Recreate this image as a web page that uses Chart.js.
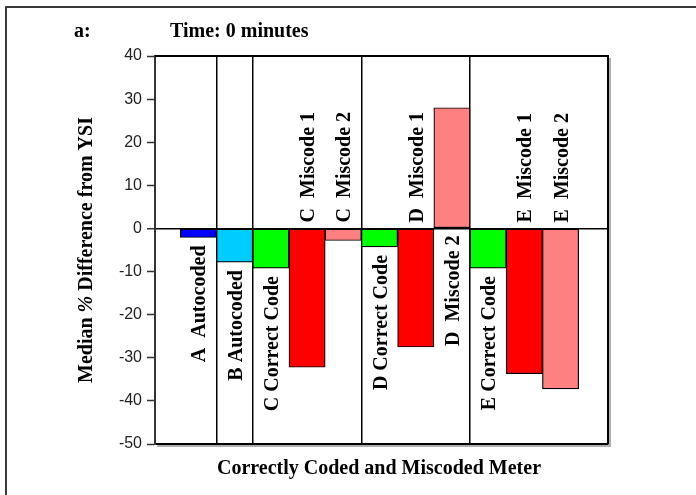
<!DOCTYPE html>
<html><head><meta charset="utf-8">
<script src="https://cdn.jsdelivr.net/npm/chart.js@4.4.1/dist/chart.umd.min.js"></script>
<style>html,body{margin:0;padding:0;background:#fff}#wrap{width:696px;height:495px;position:relative}</style>
</head><body><div id="wrap"><canvas id="c" width="696" height="495"></canvas></div>
<script>
// ---- data ----
const categories = ["A  Autocoded","B Autocoded","C Correct Code","C  Miscode 1","C  Miscode 2","D Correct Code","D  Miscode 1","D  Miscode 2","E Correct Code","E  Miscode 1","E  Miscode 2"];
const values = [-2.1, -7.8, -9.2, -32.2, -2.8, -4.3, -27.5, 28.0, -9.2, -33.7, -37.2];
const yTicks = [-50, -40, -30, -20, -10, 0, 10, 20, 30, 40];
const panelLabel = "a:";
const chartTitle = "Time: 0 minutes";
const xTitle = "Correctly Coded and Miscoded Meter";
const yTitleParts = ["Median ", "%", " Difference from YSI"];

// ---- styles ----
function colorFor(label){
  if (label.startsWith("A")) return "#0000FF";
  if (label.startsWith("B")) return "#00CCFF";
  if (label.includes("Correct")) return "#00FF00";
  if (label.includes("Miscode 1")) return "#FF0000";
  return "#FF8080";
}
const serif = "'Liberation Serif','Times New Roman',serif";
const sans = "'Liberation Sans',Arial,sans-serif";

// group boundaries (where the meter letter changes)
const boundaries = [];
for (let i = 0; i < categories.length - 1; i++) {
  if (categories[i][0] !== categories[i+1][0]) boundaries.push(i + 0.5);
}

const decor = {
  id: 'decor',
  beforeDraw(chart){
    const ctx = chart.ctx;
    ctx.save();
    ctx.fillStyle = '#fff';
    ctx.fillRect(0,0,chart.width,chart.height);
    ctx.strokeStyle = '#3a3a3a';
    ctx.lineWidth = 2;
    ctx.strokeRect(6, 7, 720, 520);
    ctx.restore();
  },
  afterDraw(chart){
    const ctx = chart.ctx, a = chart.chartArea;
    ctx.save();
    // shadow
    ctx.strokeStyle = '#b0b0b0';
    ctx.lineWidth = 2;
    ctx.beginPath();
    ctx.moveTo(a.right + 2, a.top + 2);
    ctx.lineTo(a.right + 2, a.bottom + 2);
    ctx.lineTo(a.left + 2, a.bottom + 2);
    ctx.stroke();
    // plot box top/right
    ctx.strokeStyle = '#000';
    ctx.lineWidth = 2;
    ctx.beginPath();
    ctx.moveTo(a.left, a.top);
    ctx.lineTo(a.right, a.top);
    ctx.lineTo(a.right, a.bottom);
    ctx.stroke();
    // titles
    ctx.fillStyle = '#000';
    ctx.font = "bold 20px " + serif;
    ctx.textBaseline = 'alphabetic';
    ctx.textAlign = 'left';
    ctx.fillText(panelLabel, 74, 37);
    ctx.fillText(chartTitle, 170, 37);
    ctx.textAlign = 'center';
    ctx.fillText(xTitle, 379, 474);
    // y title with italic %
    const fonts = ["bold 20px " + serif, "italic bold 20px " + serif, "bold 20px " + serif];
    let total = 0;
    const widths = yTitleParts.map((p, k) => { ctx.font = fonts[k]; const w = ctx.measureText(p).width; total += w; return w; });
    ctx.save();
    ctx.translate(92, 250);
    ctx.rotate(-Math.PI/2);
    ctx.textAlign = 'left';
    let xx = -total / 2;
    yTitleParts.forEach((p, k) => { ctx.font = fonts[k]; ctx.fillText(p, xx, 0); xx += widths[k]; });
    ctx.restore();
    // bar labels
    const meta = chart.getDatasetMeta(0);
    const yScale = chart.scales.y;
    const zero = yScale.getPixelForValue(0);
    meta.data.forEach((el, i) => {
      const label = categories[i];
      const v = values[i];
      let anchorY, align;
      if (label.includes("Miscode")) {
        if (v < 0) { anchorY = zero - 6; align = 'left'; }
        else { anchorY = zero + 7; align = 'right'; }
      } else {
        anchorY = el.y + 8; align = 'right';
      }
      ctx.save();
      ctx.translate(el.x + 7, anchorY);
      ctx.rotate(-Math.PI/2);
      ctx.textAlign = align;
      ctx.textBaseline = 'alphabetic';
      ctx.font = "bold 20px " + serif;
      ctx.fillStyle = '#000';
      ctx.fillText(label, 0, 0);
      ctx.restore();
    });
    ctx.restore();
  }
};

new Chart(document.getElementById('c'), {
  type: 'bar',
  data: {
    datasets: [{
      data: values.map((v, i) => ({x: i, y: v})),
      backgroundColor: categories.map(colorFor),
      borderColor: '#000',
      borderWidth: 1.2,
      borderSkipped: false,
      barPercentage: 1,
      categoryPercentage: 1
    }]
  },
  options: {
    responsive: false,
    animation: false,
    events: [],
    layout: { padding: { left: 0, top: 56, right: 88, bottom: 0 } },
    plugins: { legend: { display: false }, tooltip: { enabled: false }, title: { display: false } },
    scales: {
      x: {
        type: 'linear',
        offset: false,
        min: -1.2,
        max: 11.31,
        afterBuildTicks: s => { s.ticks = boundaries.map(v => ({value: v})); },
        afterFit: s => { s.height = 51; },
        ticks: { display: false },
        grid: { color: '#000', lineWidth: 1.5, drawTicks: false, offset: false },
        border: { color: '#000', width: 2 }
      },
      y: {
        min: -50,
        max: 40,
        afterBuildTicks: s => { s.ticks = yTicks.map(v => ({value: v})); },
        afterFit: s => { s.width = 155; },
        ticks: { color: '#222', font: { family: sans, size: 16 }, padding: 5 },
        grid: {
          color: c => (c.tick && c.tick.value === 0) ? '#000' : 'rgba(0,0,0,0)',
          lineWidth: c => (c.tick && c.tick.value === 0) ? 1.5 : 1,
          tickColor: '#333',
          tickLength: 8,
          tickWidth: 1.5
        },
        border: { color: '#333', width: 2 }
      }
    }
  },
  plugins: [decor]
});
</script></body></html>
